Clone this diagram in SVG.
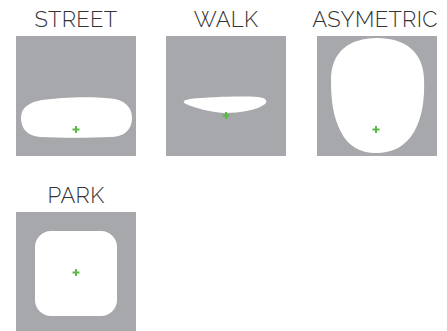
<svg xmlns="http://www.w3.org/2000/svg" width="447" height="331" viewBox="0 0 447 331">
<style>
.t{font-family:"Raleway","Lato","Liberation Sans",sans-serif;font-size:22px;fill:#333;text-anchor:middle;font-weight:300;letter-spacing:0.3px}
.bg{fill:#a7a8ab}
.sh{fill:#fff}
.pl{stroke:#5cb946;stroke-width:2;fill:none}
</style>
<rect width="447" height="331" fill="#fff"/>
<g id="street">
<text class="t" x="76" y="27">STREET</text>
<rect class="bg" x="16" y="36" width="120" height="120"/>
<path class="sh" d="M42,100 C62,97 95,96 115,99 C128,102 132,110 132,118 C132,130 124,137 110,137 C90,138 60,138 40,137 C27,136 21,128 21,118 C21,107 30,102 42,100 Z"/>
<path class="pl" d="M72.5,129.5h7M76,126v7"/>
</g>
<g id="walk">
<text class="t" x="226" y="27">WALK</text>
<rect class="bg" x="166" y="36" width="120" height="120"/>
<path class="sh" d="M190,99 C210,97 240,96 258,97 C266,98 268,101 265,104 C258,110 240,113 224,113 C210,112 195,108 186,104 C182,102 183,100 190,99 Z"/>
<path class="pl" d="M222.5,115.5h7M226,112v7"/>
</g>
<g id="asymetric">
<text class="t" x="375" y="27">ASYMETRIC</text>
<rect class="bg" x="317" y="36" width="120" height="120"/>
<path class="sh" d="M377,38 C405,38 423,52 424,78 C425,100 422,118 414,132 C405,147 392,153 376,153 C360,153 348,146 341,132 C333,117 331,100 331,80 C331,52 349,38 377,38 Z"/>
<path class="pl" d="M372.5,129.5h7M376,126v7"/>
</g>
<g id="park">
<text class="t" x="76" y="203">PARK</text>
<rect class="bg" x="16" y="212" width="120" height="120"/>
<rect class="sh" x="35" y="231" width="82" height="85" rx="16" ry="16"/>
<path class="pl" d="M72.5,272.5h7M76,269v7"/>
</g>
<g id="connectors"></g>
</svg>
